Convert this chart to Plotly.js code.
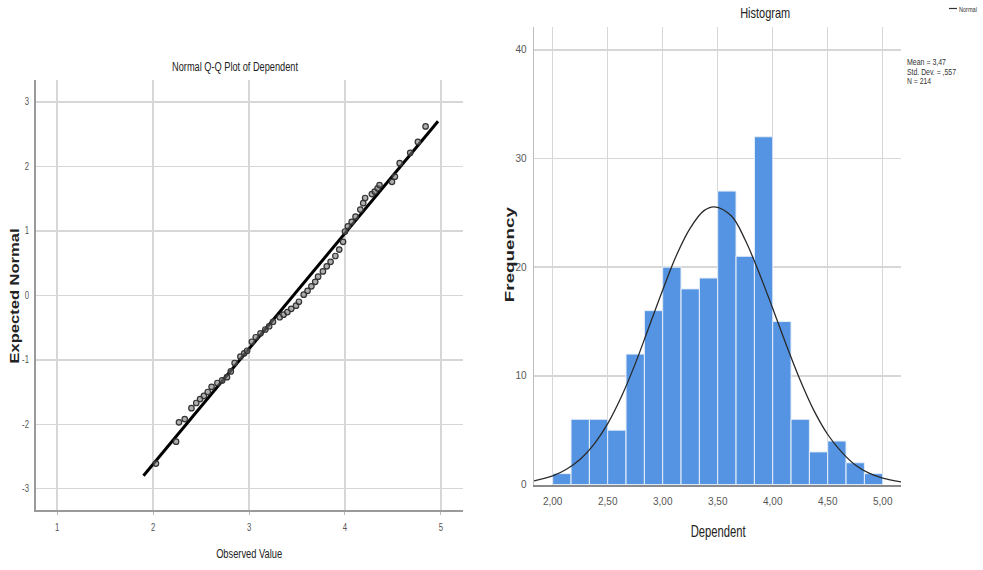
<!DOCTYPE html>
<html>
<head>
<meta charset="utf-8">
<script src="https://cdn.plot.ly/plotly-3.0.1.min.js"></script>
<style>html,body{margin:0;padding:0;background:#fff}#chart{width:983px;height:570px}</style>
</head>
<body>
<div id="chart"></div>
<script>
// ---- Q-Q plot data (observed value, expected normal) ----
const qqObserved = [2.03,2.24,2.27,2.33,2.40,2.45,2.49,2.53,2.57,2.61,2.67,2.72,2.77,2.81,2.85,2.91,2.95,2.98,
  3.03,3.07,3.12,3.17,3.21,3.25,3.32,3.36,3.40,3.44,3.49,3.52,3.57,3.61,3.65,3.69,3.72,3.77,3.81,3.85,3.90,3.94,3.98,
  4.00,4.03,4.07,4.11,4.16,4.19,4.21,4.28,4.31,4.34,4.36,4.49,4.52,4.57,4.68,4.76,4.84];
const qqExpected = [-2.61,-2.27,-1.97,-1.92,-1.75,-1.67,-1.61,-1.56,-1.50,-1.42,-1.36,-1.32,-1.27,-1.18,-1.05,-0.95,-0.90,-0.86,
  -0.72,-0.65,-0.59,-0.53,-0.48,-0.41,-0.34,-0.30,-0.26,-0.21,-0.16,-0.10,0.01,0.07,0.14,0.21,0.29,0.37,0.45,0.52,0.61,0.71,0.83,
  0.99,1.07,1.14,1.22,1.33,1.43,1.51,1.57,1.61,1.66,1.71,1.76,1.84,2.05,2.21,2.38,2.62];
const qqLineX = [1.90, 4.97];
const qqLineY = [-2.80, 2.70];
const qqXTicks = [1,2,3,4,5];
const qqYTicks = [-3,-2,-1,0,1,2,3];

// ---- Histogram data ----
const binCenters = [2.083,2.25,2.417,2.583,2.75,2.917,3.083,3.25,3.417,3.583,3.75,3.917,4.083,4.25,4.417,4.583,4.75,4.917];
const binCounts  = [1,6,6,5,12,16,20,18,19,27,21,32,15,6,3,4,2,1];
const binWidth = 0.1667;
const curveX = [1.83,2.0,2.125,2.25,2.375,2.5,2.625,2.75,2.875,3.0,3.125,3.25,3.375,3.47,3.625,3.75,3.875,4.0,4.125,4.25,4.375,4.5,4.625,4.75,4.875,5.0,5.17];
const curveY = [0.34,0.79,1.4,2.32,3.7,5.6,8.1,11.1,14.5,17.9,21.1,23.6,25.2,25.55,24.7,22.5,19.5,16.2,12.8,9.6,6.8,4.6,3.0,1.8,1.05,0.59,0.24];
const histXTickVals = [2.0,2.5,3.0,3.5,4.0,4.5,5.0];
const histXTickText = ['2,00','2,50','3,00','3,50','4,00','4,50','5,00'];
const histYTicks = [0,10,20,30,40];
const statsLines = ['Mean = 3,47','Std. Dev. = ,557','N = 214'];

const FONT = 'Liberation Sans, Arial, sans-serif';
const W = 983, H = 570;
const px = v => v / W;
const py = v => 1 - v / H;

// text widths (px) as they appear in the reference, to mimic the narrow SPSS font
const textWidths = {'Normal Q-Q Plot of Dependent':126, 'Observed Value':66, 'Expected Normal':135,
  'Histogram':50, 'Dependent':55, 'Frequency':95, 'Normal':18,
  'Mean = 3,47':39, 'Std. Dev. = ,557':49, 'N = 214':24};

const traces = [
  {x: qqLineX, y: qqLineY, xaxis:'x', yaxis:'y', mode:'lines', type:'scatter',
   line:{color:'#000', width:3}, showlegend:false, hoverinfo:'skip'},
  {x: qqObserved, y: qqExpected, xaxis:'x', yaxis:'y', mode:'markers', type:'scatter',
   marker:{symbol:'circle', size:5.5, color:'rgba(120,120,120,0.6)', line:{color:'#333', width:1.2}}, showlegend:false},
  {x: binCenters, y: binCounts, xaxis:'x2', yaxis:'y2', type:'bar', width: binCenters.map(()=>binWidth),
   marker:{color:'#5594e2', line:{color:'#e6eef8', width:1}}, showlegend:false},
  {x: curveX, y: curveY, xaxis:'x2', yaxis:'y2', mode:'lines', type:'scatter',
   line:{color:'#2a2a2a', width:1.3, shape:'spline'}, name:'Normal', showlegend:false}
];

const grid = '#d7d7d7';
const tickFont = {family: FONT, size: 10, color:'#555'};

function ann(text, x, y, size, extra) {
  return Object.assign({text: text, xref:'paper', yref:'paper', x:px(x), y:py(y), xanchor:'center', yanchor:'middle',
    showarrow:false, font:{family:FONT, size:size, color:'#222'}}, extra || {});
}

const annotations = [
  ann('Normal Q-Q Plot of Dependent', 235, 67, 12),
  ann('Observed Value', 249, 553, 13),
  ann('<b>Expected Normal</b>', 15, 296, 12, {textangle:-90}),
  ann('Histogram', 765, 13, 15),
  ann('Dependent', 718, 531, 16),
  ann('<b>Frequency</b>', 510, 255, 12, {textangle:-90}),
  ann('Normal', 968, 9, 8, {font:{family:FONT, size:8, color:'#333'}})
];
statsLines.forEach((s, i) => annotations.push(
  ann(s, 905, 62 + i * 9.5, 9, {xanchor:'left', align:'left', font:{family:FONT, size:9, color:'#333'}})));

const layout = {
  width: W, height: H,
  margin:{l:0,r:0,t:0,b:0},
  paper_bgcolor:'#fff', plot_bgcolor:'#fff',
  showlegend:false,
  bargap:0,
  xaxis:{domain:[px(36), px(463)], range:[0.78,5.23], tickvals: qqXTicks, ticktext: qqXTicks.map(String),
    showgrid:true, gridcolor:grid, gridwidth:1.5, zeroline:false, showline:true, linecolor:'#9a9a9a', linewidth:2,
    ticks:'outside', ticklen:3, tickcolor:'#bbb', tickfont: tickFont, ticklabelstandoff:4, anchor:'y'},
  yaxis:{domain:[py(510), py(80)], range:[-3.33,3.34], tickvals: qqYTicks, ticktext: qqYTicks.map(String),
    showgrid:true, gridcolor:grid, gridwidth:1.5, zeroline:false, showline:true, linecolor:'#9a9a9a', linewidth:2,
    ticks:'', tickfont: tickFont, ticklabelstandoff:3, anchor:'x'},
  xaxis2:{domain:[px(534), px(901)], range:[1.83,5.166], tickvals: histXTickVals, ticktext: histXTickText,
    showgrid:true, gridcolor:grid, gridwidth:1.5, zeroline:false, showline:true, linecolor:'#8a8a8a', linewidth:2,
    ticks:'', tickfont: tickFont, ticklabelstandoff:6, anchor:'y2'},
  yaxis2:{domain:[py(484.5), py(27)], range:[0,42.1], tickvals: histYTicks, ticktext: histYTicks.map(String),
    showgrid:true, gridcolor:grid, gridwidth:1.5, zeroline:false, showline:true, linecolor:'#bdbdbd', linewidth:1.5,
    ticks:'', tickfont: tickFont, ticklabelstandoff:4, anchor:'x2'},
  shapes:[
    {type:'line', xref:'paper', yref:'paper', x0:px(949), x1:px(957), y0:py(8.5), y1:py(8.5), line:{color:'#333', width:1.2}}
  ],
  annotations: annotations
};

Plotly.newPlot('chart', traces, layout, {displayModeBar:false, staticPlot:true}).then(gd => {
  gd.querySelectorAll('text.annotation-text').forEach(t => {
    const w = textWidths[t.textContent];
    if (w) { t.setAttribute('textLength', w); t.setAttribute('lengthAdjust', 'spacingAndGlyphs'); }
  });
  gd.querySelectorAll('.xtick text, .ytick text').forEach(t => {
    const w = t.getComputedTextLength();
    t.setAttribute('textLength', (w * 0.78).toFixed(1));
    t.setAttribute('lengthAdjust', 'spacingAndGlyphs');
  });
});
</script>
</body>
</html>
